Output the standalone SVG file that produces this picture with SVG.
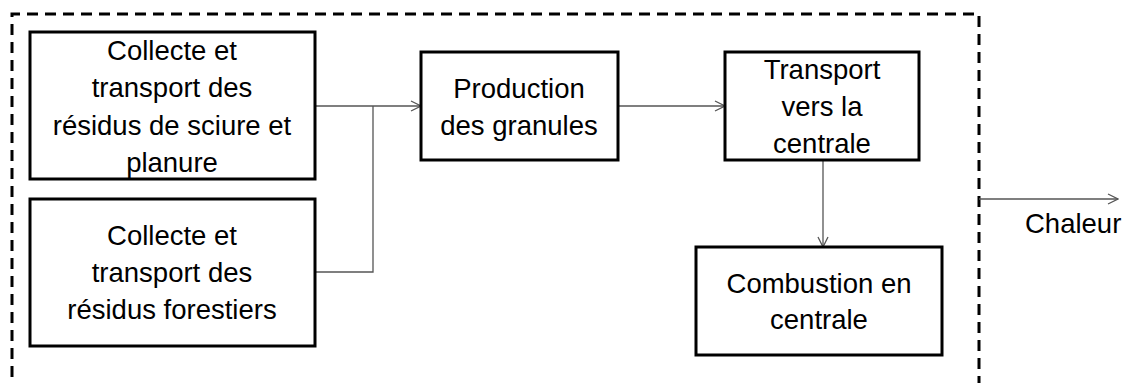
<svg xmlns="http://www.w3.org/2000/svg" width="1123" height="383" viewBox="0 0 1123 383">
<style>
.box{fill:#fff;stroke:#000;stroke-width:3}
.t{font-family:"Liberation Sans",Arial,sans-serif;font-size:27.5px;fill:#000;text-anchor:middle}
.c{fill:none;stroke:#555;stroke-width:1.3}
</style>
<defs>
<marker id="ah" viewBox="0 0 12 12" refX="11" refY="6" markerWidth="12" markerHeight="12" markerUnits="userSpaceOnUse" orient="auto">
<path d="M1,1 L11,6 L1,11" fill="none" stroke="#555" stroke-width="1.3"/>
</marker>
</defs>
<rect width="1123" height="383" fill="#fff"/>
<g id="boundary">
<path d="M12,395 L12,14 L979,14 L979,395" fill="none" stroke="#000" stroke-width="3" stroke-dasharray="11,7"/>
</g>
<g id="connectors">
<path class="c" d="M315,106 L421,106" marker-end="url(#ah)"/>
<path class="c" d="M315,272 L373,272 L373,106"/>
<path class="c" d="M618,106 L725,106" marker-end="url(#ah)"/>
<path class="c" d="M823,160 L823,247" marker-end="url(#ah)"/>
<path class="c" d="M979,199 L1118,199" marker-end="url(#ah)"/>
</g>
<g id="n1">
<rect class="box" x="30" y="32" width="285" height="147"/>
<text class="t" x="172" y="60">Collecte et</text>
<text class="t" x="172" y="97">transport des</text>
<text class="t" x="172" y="135">résidus de sciure et</text>
<text class="t" x="172" y="172">planure</text>
</g>
<g id="n2">
<rect class="box" x="30" y="199" width="285" height="147"/>
<text class="t" x="172" y="245">Collecte et</text>
<text class="t" x="172" y="282">transport des</text>
<text class="t" x="172" y="319">résidus forestiers</text>
</g>
<g id="n3">
<rect class="box" x="421" y="52" width="197" height="108"/>
<text class="t" x="519" y="98">Production</text>
<text class="t" x="519" y="135">des granules</text>
</g>
<g id="n4">
<rect class="box" x="725" y="52" width="194" height="108"/>
<text class="t" x="822" y="79">Transport</text>
<text class="t" x="822" y="116">vers la</text>
<text class="t" x="822" y="153">centrale</text>
</g>
<g id="n5">
<rect class="box" x="696" y="247" width="246" height="108"/>
<text class="t" x="819" y="293">Combustion en</text>
<text class="t" x="819" y="329">centrale</text>
</g>
<g id="chaleur">
<text class="t" x="1025" y="233" style="text-anchor:start">Chaleur</text>
</g>
</svg>
